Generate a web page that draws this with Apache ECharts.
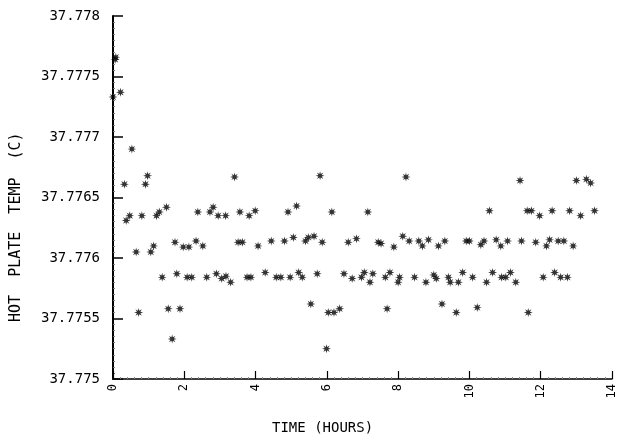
<!DOCTYPE html>
<html>
<head>
<meta charset="utf-8">
<script src="https://cdn.jsdelivr.net/npm/echarts@6/dist/echarts.min.js"></script>
<style>
html,body{margin:0;padding:0;background:#fff;}
#c{width:618px;height:436px;}
</style>
</head>
<body>
<div id="c"></div>
<script>
// Time (hours)
var hours = [0.00,0.06,0.08,0.21,0.32,0.37,0.47,0.53,0.65,0.72,0.81,0.91,0.97,1.06,1.14,1.22,1.30,1.38,1.50,1.55,1.66,1.74,1.79,1.88,1.97,2.08,2.13,2.21,2.33,2.38,2.52,2.63,2.72,2.81,2.90,2.95,3.05,3.16,3.17,3.30,3.41,3.51,3.56,3.63,3.76,3.82,3.87,3.99,4.07,4.27,4.44,4.58,4.71,4.81,4.91,4.97,5.06,5.15,5.21,5.31,5.40,5.48,5.55,5.64,5.73,5.81,5.87,5.99,6.04,6.14,6.20,6.36,6.48,6.60,6.71,6.83,6.97,7.05,7.15,7.21,7.29,7.44,7.52,7.64,7.69,7.77,7.88,8.00,8.04,8.13,8.22,8.31,8.46,8.58,8.68,8.78,8.85,9.00,9.07,9.13,9.23,9.31,9.41,9.46,9.63,9.69,9.81,9.91,10.00,10.09,10.22,10.32,10.41,10.48,10.56,10.65,10.75,10.88,10.90,11.02,11.07,11.15,11.30,11.42,11.46,11.62,11.65,11.74,11.86,11.97,12.07,12.16,12.25,12.32,12.39,12.49,12.56,12.65,12.75,12.81,12.91,13.00,13.12,13.28,13.40,13.51];
// Hot plate temperature (C)
var temps = [37.77733,37.77764,37.77766,37.77737,37.77661,37.77631,37.77635,37.77690,37.77605,37.77555,37.77635,37.77661,37.77668,37.77605,37.77610,37.77635,37.77638,37.77584,37.77642,37.77558,37.77533,37.77613,37.77587,37.77558,37.77609,37.77584,37.77609,37.77584,37.77614,37.77638,37.77610,37.77584,37.77638,37.77642,37.77587,37.77635,37.77583,37.77635,37.77585,37.77580,37.77667,37.77613,37.77638,37.77613,37.77584,37.77635,37.77584,37.77639,37.77610,37.77588,37.77614,37.77584,37.77584,37.77614,37.77638,37.77584,37.77617,37.77643,37.77588,37.77584,37.77614,37.77617,37.77562,37.77618,37.77587,37.77668,37.77613,37.77525,37.77555,37.77638,37.77555,37.77558,37.77587,37.77613,37.77583,37.77616,37.77584,37.77588,37.77638,37.77580,37.77587,37.77613,37.77612,37.77584,37.77558,37.77588,37.77609,37.77580,37.77584,37.77618,37.77667,37.77614,37.77584,37.77614,37.77610,37.77580,37.77615,37.77586,37.77583,37.77610,37.77562,37.77614,37.77584,37.77580,37.77555,37.77580,37.77588,37.77614,37.77614,37.77584,37.77559,37.77611,37.77614,37.77580,37.77639,37.77588,37.77615,37.77610,37.77584,37.77584,37.77614,37.77588,37.77580,37.77664,37.77614,37.77639,37.77555,37.77639,37.77613,37.77635,37.77584,37.77610,37.77615,37.77639,37.77588,37.77614,37.77584,37.77614,37.77584,37.77639,37.77610,37.77664,37.77635,37.77665,37.77662,37.77639];
var yTicks = ['37.775','37.7755','37.776','37.7765','37.777','37.7775','37.778'];
var xTitle = 'TIME (HOURS)';
var yTitle = 'HOT  PLATE  TEMP  (C)';

var pts = [];
for (var i = 0; i < hours.length; i++) pts.push([hours[i], temps[i]]);

// asterisk-like star symbol
var p = '';
for (var k = 0; k < 16; k++) {
  var a = k * Math.PI / 8 - Math.PI / 2;
  var r = (k % 2) ? 0.42 : 1;
  var px = (50 + 50 * r * Math.cos(a)).toFixed(2), py = (50 + 50 * r * Math.sin(a)).toFixed(2);
  p += (k === 0 ? 'M' : 'L') + px + ' ' + py + ' ';
}
p += 'Z';

var mono = 'DejaVu Sans Mono';
var chart = echarts.init(document.getElementById('c'));
chart.setOption({
  backgroundColor: '#fff',
  animation: false,
  grid: {left: 113, right: 4, top: 16, bottom: 57, containLabel: false},
  xAxis: {
    type: 'value', min: 0, max: 14, interval: 2,
    axisLine: {show: true, onZero: false, lineStyle: {color: '#000', width: 1.5}},
    axisTick: {show: true, inside: true, length: 8, lineStyle: {color: '#000', width: 1.2}},
    minorTick: {show: true, splitNumber: 10, length: 2, lineStyle: {color: '#888', width: 1}},
    splitLine: {show: false},
    axisLabel: {rotate: 90, margin: 5, color: '#000', fontFamily: mono, fontSize: 12,
      formatter: function (v) { return String(v); }}
  },
  yAxis: {
    type: 'value', min: 37.775, max: 37.778, interval: 0.0005,
    axisLine: {show: true, onZero: false, lineStyle: {color: '#000', width: 2}},
    axisTick: {show: true, inside: true, length: 10, lineStyle: {color: '#000', width: 1.5}},
    minorTick: {show: true, splitNumber: 10, length: 2, lineStyle: {color: '#777', width: 1}},
    splitLine: {show: false},
    axisLabel: {margin: 13, color: '#000', fontFamily: mono, fontSize: 14,
      formatter: function (v) { return yTicks[Math.round((v - 37.775) / 0.0005)]; }}
  },
  graphic: [
    {type: 'text', left: 272, top: 421, style: {text: xTitle, fill: '#000', font: '14px "DejaVu Sans Mono"'}},
    {type: 'text', x: 9, y: 322, rotation: Math.PI / 2,
      style: {text: yTitle, fill: '#000', font: '15px "DejaVu Sans Mono"', textAlign: 'left', textVerticalAlign: 'top'}}
  ],
  series: [{
    type: 'scatter',
    data: pts,
    symbol: 'path://' + p,
    symbolSize: 9,
    itemStyle: {color: '#000'},
    clip: false
  }]
});
</script>
</body>
</html>
